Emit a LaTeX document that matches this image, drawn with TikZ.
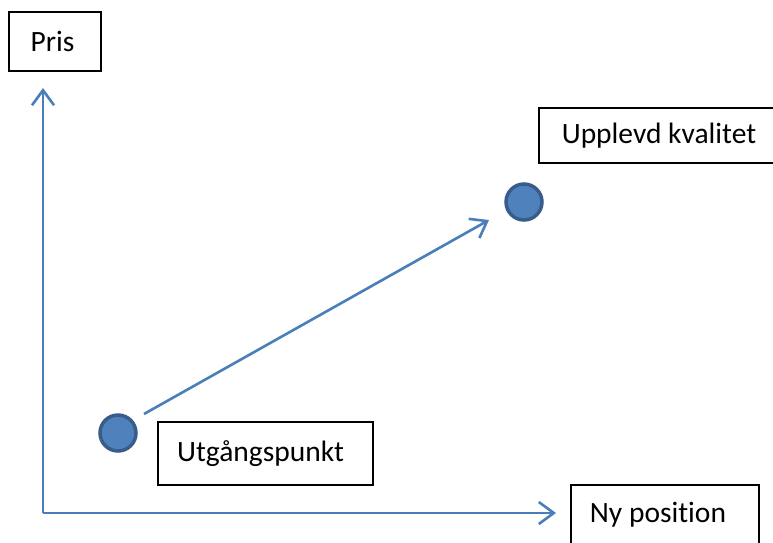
\documentclass[tikz,border=0pt]{standalone}
\usepackage{fontspec}
\setmainfont{Carlito}[Ligatures=NoCommon]
\usetikzlibrary{arrows.meta}
\definecolor{axisblue}{HTML}{4A7EBB}
\definecolor{dotfill}{HTML}{4F81BD}
\definecolor{dotline}{HTML}{385D8A}
\begin{document}
\begin{tikzpicture}[x=1pt,y=-1pt,
  lbox/.style={draw=black,line width=1.5pt,fill=white,inner sep=0pt,font=\fontsize{29.5}{35}\selectfont},
  dot/.style={circle,fill=dotfill,draw=dotline,line width=3.5pt,minimum size=36pt,inner sep=0pt},
  conn/.style={draw=axisblue,line width=2.6pt,-{Straight Barb[length=15pt,width=22pt,line width=2.6pt]}}]
\useasboundingbox (0,0) rectangle (773,542);
\begin{scope}
\clip (0,0) rectangle (773,542);
\node[lbox,minimum width=92pt,minimum height=59pt] (pris) at (55,41.5) {\hspace*{-5pt}Pris};
\node[lbox,minimum width=240pt,minimum height=55pt] (upp) at (659,135.5) {Upplevd kvalitet};
\node[lbox,minimum width=215pt,minimum height=63pt] (utg) at (265.5,453.5) {\hspace*{-10pt}Utgångspunkt};
\node[lbox,minimum width=188pt,minimum height=60pt] (ny) at (665,515) {\hspace*{-14pt}Ny position};
\end{scope}
\node[dot] (d1) at (118,433) {};
\node[dot] (d2) at (524,202) {};
\coordinate (o) at (43,513);
\coordinate (ytip) at (43,88);
\coordinate (xtip) at (556,513);
\coordinate (s) at (144,414);
\coordinate (e) at (489,220);
\draw[conn] (o) -- (ytip);
\draw[conn] (o) -- (xtip);
\draw[conn] (s) -- (e);
\end{tikzpicture}
\end{document}
